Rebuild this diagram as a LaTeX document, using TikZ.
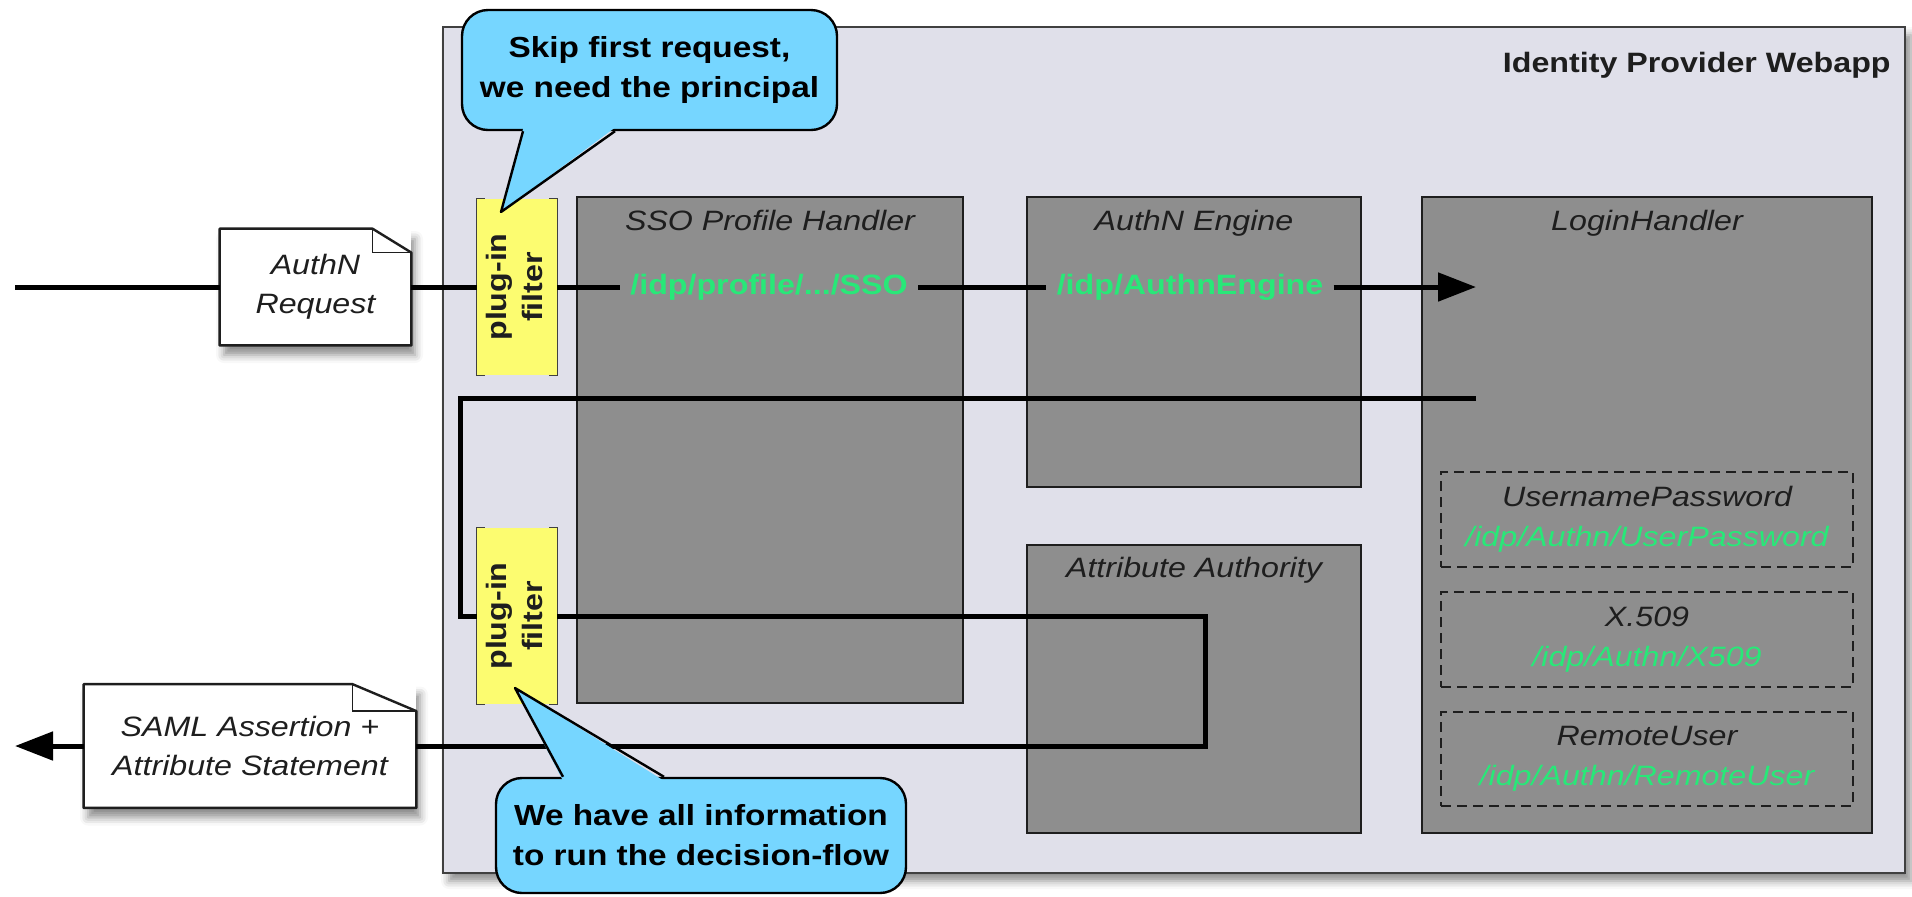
\documentclass[tikz,border=0pt]{standalone}
\usepackage{fontspec}
\setmainfont{Liberation Sans}[FakeStretch=1.15]
\usetikzlibrary{arrows.meta,shadows.blur}
\definecolor{appbg}{RGB}{224,224,234}
\definecolor{boxgray}{RGB}{142,142,142}
\definecolor{filteryel}{RGB}{252,252,112}
\definecolor{callblue}{RGB}{118,214,255}
\definecolor{pathgreen}{RGB}{40,232,120}
\definecolor{ink}{RGB}{30,30,30}
\begin{document}
\begin{tikzpicture}[x=0.5pt,y=-0.5pt,
  every node/.style={font=\fontsize{14pt}{19pt}\selectfont},
  app/.style={draw=black!75, line width=1.2pt, fill=appbg, inner sep=0,
    blur shadow={shadow xshift=3pt,shadow yshift=-4pt,shadow blur radius=4pt,shadow opacity=45}},
  comp/.style={draw=ink, line width=1pt, fill=boxgray, inner sep=0},
  complabel/.style={anchor=base, text=ink, inner sep=0, font=\itshape\fontsize{14pt}{19pt}\selectfont},
  titlelabel/.style={anchor=base east, text=ink, inner sep=0, font=\bfseries\fontsize{14pt}{19pt}\selectfont},
  pathlabel/.style={text=pathgreen, inner xsep=5pt, inner ysep=2pt, font=\bfseries\fontsize{14pt}{19pt}\selectfont},
  dashbox/.style={draw=ink, line width=1pt, dash pattern=on 5pt off 3pt, align=center,
    minimum width=206pt, inner sep=0, text=ink, font=\itshape\fontsize{14pt}{20pt}\selectfont},
  filterbox/.style={fill=filteryel, minimum width=40pt, inner sep=0, text=ink,
    font=\bfseries\fontsize{14pt}{18pt}\selectfont},
  filteredge/.style={draw=black!75, line width=0.8pt},
  docnode/.style={fill=white, align=center, inner sep=0, text=ink,
    font=\itshape\fontsize{14pt}{19.5pt}\selectfont,
    blur shadow={shadow xshift=2pt,shadow yshift=-5pt,shadow blur radius=4pt,shadow opacity=45}},
  docline/.style={draw=ink, line width=1.2pt, line join=round},
  docfold/.style={draw=ink, line width=0.8pt},
  callbody/.style={fill=callblue, draw=black, line width=1.2pt, rounded corners=13pt,
    align=center, inner sep=0, text=black, font=\bfseries\fontsize{14.5pt}{20pt}\selectfont},
  calledge/.style={draw=black, line width=1.2pt, line join=round},
  flow/.style={draw=black, line width=2.5pt},
  flowarrow/.style={flow, -{Triangle[length=19pt,width=14pt]}}
]
\useasboundingbox (0,0) rectangle (1912,896);

% container
\node[app, minimum width=731pt, minimum height=423pt] (webapp) at (1174,450) {};
\node[titlelabel] (title) at (1891,72) {Identity Provider Webapp};

% components
\node[comp, minimum width=193pt, minimum height=253pt] (sso) at (770,450) {};
\node[complabel] (ssolabel) at (770,230) {SSO Profile Handler};
\node[comp, minimum width=167pt, minimum height=145pt] (engine) at (1194,342) {};
\node[complabel] (enginelabel) at (1194,230) {AuthN Engine};
\node[comp, minimum width=167pt, minimum height=144pt] (aa) at (1194,689) {};
\node[complabel] (aalabel) at (1194,577) {Attribute Authority};
\node[comp, minimum width=225pt, minimum height=318pt] (lh) at (1647,515) {};
\node[complabel] (lhlabel) at (1647,230) {LoginHandler};

% login modules
\node[dashbox, minimum height=47.5pt] (up) at (1647,519.5)
  {UsernamePassword\\\textcolor{pathgreen}{/idp/Authn/UserPassword}};
\node[dashbox, minimum height=47.5pt] (x509) at (1647,639.5)
  {X.509\\\textcolor{pathgreen}{/idp/Authn/X509}};
\node[dashbox, minimum height=47pt] (ru) at (1647,759)
  {RemoteUser\\\textcolor{pathgreen}{/idp/Authn/RemoteUser}};

% plug-in filters
\node[filterbox, minimum height=88pt] (filter1) at (517,287)
  {\rotatebox{90}{\begin{tabular}{@{}c@{}}plug-in\\filter\end{tabular}}};
\node[filterbox, minimum height=88pt] (filter2) at (517,616)
  {\rotatebox{90}{\begin{tabular}{@{}c@{}}plug-in\\filter\end{tabular}}};
\foreach \f in {filter1,filter2}{
  \draw[filteredge] ([xshift=4pt]\f.north west) -- (\f.north west) -- (\f.south west) -- ([xshift=4pt]\f.south west);
  \draw[filteredge] ([xshift=-4pt]\f.north east) -- (\f.north east) -- (\f.south east) -- ([xshift=-4pt]\f.south east);
}

% endpoint paths
\node[pathlabel] (ssopath) at (769,287) {/idp/profile/.../SSO};
\node[pathlabel] (enginepath) at (1190,287) {/idp/AuthnEngine};

% documents
\node[docnode, minimum width=95.5pt, minimum height=58pt] (authnreq) at (315.5,287) {AuthN\\Request};
\draw[docline] (authnreq.south west) -- (authnreq.north west) -- ([xshift=-19.5pt]authnreq.north east)
  -- ([yshift=-12pt]authnreq.north east) -- (authnreq.south east) -- cycle;
\draw[docfold] ([xshift=-19.5pt]authnreq.north east) |- ([yshift=-12pt]authnreq.north east);

\node[docnode, minimum width=166pt, minimum height=61.5pt] (samldoc) at (250,746) {SAML Assertion +\\Attribute Statement};
\draw[docline] (samldoc.south west) -- (samldoc.north west) -- ([xshift=-32pt]samldoc.north east)
  -- ([yshift=-13.5pt]samldoc.north east) -- (samldoc.south east) -- cycle;
\draw[docfold] ([xshift=-32pt]samldoc.north east) |- ([yshift=-13.5pt]samldoc.north east);

% request flow
\coordinate (in) at (15,287);
\coordinate (lhin) at (1476,287);
\draw[flow] (in) -- (authnreq.west);
\draw[flow] (authnreq.east) -- (authnreq.east -| filter1.west);
\draw[flow] (filter1.east) -- (ssopath.west);
\draw[flow] (ssopath.east) -- (enginepath.west);
\draw[flowarrow] (enginepath.east) -- (lhin);

% response flow
\coordinate (lhout) at (1476,398);
\coordinate (turn1) at (460,398);
\coordinate (aaloop) at (1205,746);
\coordinate (out) at (15,746);
\draw[flow] (lhout) -- (turn1) |- (filter2.west);
\draw[flow] (filter2.east) -| (aaloop) -- (samldoc.east);
\draw[flowarrow] (samldoc.west) -- (out);

% callouts
\node[callbody, minimum width=187.5pt, minimum height=60pt] (note1) at (649.5,70)
  {Skip first request,\\we need the principal};
\coordinate (tip1) at (501,212);
\fill[callblue] ([xshift=-63pt,yshift=2pt]note1.south) -- (tip1) -- ([xshift=-17pt,yshift=2pt]note1.south) -- cycle;
\draw[calledge] ([xshift=-63.25pt]note1.south) -- (tip1) -- ([xshift=-17.25pt]note1.south);

\node[callbody, minimum width=205pt, minimum height=57.5pt] (note2) at (701,835.5)
  {We have all information\\to run the decision-flow};
\coordinate (tip2) at (515,688);
\fill[callblue] ([xshift=-69pt,yshift=-2pt]note2.north) -- (tip2) -- ([xshift=-18.5pt,yshift=-2pt]note2.north) -- cycle;
\draw[calledge] ([xshift=-69pt]note2.north) -- (tip2) -- ([xshift=-18.5pt]note2.north);
\end{tikzpicture}
\end{document}
